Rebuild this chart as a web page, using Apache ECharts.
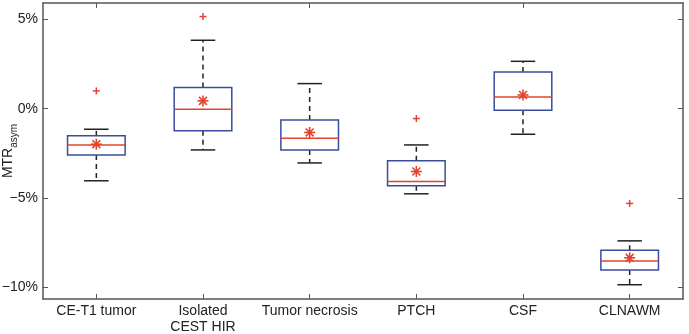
<!DOCTYPE html>
<html>
<head>
<meta charset="utf-8">
<script src="https://cdn.jsdelivr.net/npm/echarts@6/dist/echarts.min.js"></script>
<style>
  html, body { margin: 0; padding: 0; background: #fff; }
  #chart { width: 689px; height: 334px; }
</style>
</head>
<body>
<div id="chart"></div>
<script>
// MTRasym per region, values in %
var categories = ["CE-T1 tumor", "Isolated\nCEST HIR", "Tumor necrosis", "PTCH", "CSF", "CLNAWM"];
var lowerWhisker = [-4.04, -2.31, -3.04, -4.77, -1.43, -9.87];
var q1 = [-2.60, -1.24, -2.32, -4.32, -0.08, -9.05];
var median = [-2.04, -0.03, -1.65, -4.08, 0.66, -8.54];
var q3 = [-1.52, 1.19, -0.63, -2.92, 2.06, -7.94];
var upperWhisker = [-1.15, 3.84, 1.41, -2.03, 2.66, -7.41];
var means = [-1.99, 0.44, -1.33, -3.52, 0.77, -8.36];
var outliers = [[0, 1.0], [1, 5.17], [3, -0.55], [5, -5.31]];
var yTicks = [-10, -5, 0, 5];
var yTickLabels = ["\u221210%", "\u22125%", "0%", "5%"];

var chart = echarts.init(document.getElementById("chart"));

var boxData = categories.map(function (c, i) {
  return [i, lowerWhisker[i], q1[i], median[i], q3[i], upperWhisker[i]];
});
var meanData = means.map(function (v, i) { return [i, v]; });

var BLUE = "#3a4c9e";
var RED = "#e2432b";
var INK = "#222";

function renderBox(params, api) {
  var i = api.value(0);
  var lo = api.coord([i, api.value(1)]);
  var b1 = api.coord([i, api.value(2)]);
  var md = api.coord([i, api.value(3)]);
  var b3 = api.coord([i, api.value(4)]);
  var hi = api.coord([i, api.value(5)]);
  var band = api.size([1, 0])[0];
  var hw = band * 0.27;
  var cw = band * 0.115;
  var x = lo[0];
  var dash = { stroke: INK, lineWidth: 1.5, lineDash: [5, 4] };
  var solid = { stroke: INK, lineWidth: 1.5 };
  return {
    type: "group",
    children: [
      { type: "line", shape: { x1: x, y1: b3[1], x2: x, y2: hi[1] }, style: dash },
      { type: "line", shape: { x1: x, y1: b1[1], x2: x, y2: lo[1] }, style: dash },
      { type: "line", shape: { x1: x - cw, y1: hi[1], x2: x + cw, y2: hi[1] }, style: solid },
      { type: "line", shape: { x1: x - cw, y1: lo[1], x2: x + cw, y2: lo[1] }, style: solid },
      { type: "rect", shape: { x: x - hw, y: b3[1], width: hw * 2, height: b1[1] - b3[1] },
        style: { fill: "none", stroke: BLUE, lineWidth: 1.5 } },
      { type: "line", shape: { x1: x - hw, y1: md[1], x2: x + hw, y2: md[1] },
        style: { stroke: RED, lineWidth: 1.5 } }
    ]
  };
}

function renderMean(params, api) {
  var p = api.coord([api.value(0), api.value(1)]);
  var r = 5.5, d = r * 0.72;
  var st = { stroke: RED, lineWidth: 1.6 };
  return {
    type: "group",
    children: [
      { type: "line", shape: { x1: p[0] - r, y1: p[1], x2: p[0] + r, y2: p[1] }, style: st },
      { type: "line", shape: { x1: p[0], y1: p[1] - r, x2: p[0], y2: p[1] + r }, style: st },
      { type: "line", shape: { x1: p[0] - d, y1: p[1] - d, x2: p[0] + d, y2: p[1] + d }, style: st },
      { type: "line", shape: { x1: p[0] - d, y1: p[1] + d, x2: p[0] + d, y2: p[1] - d }, style: st }
    ]
  };
}

function renderPlus(params, api) {
  var p = api.coord([api.value(0), api.value(1)]);
  var r = 3.5;
  var st = { stroke: RED, lineWidth: 1.5 };
  return {
    type: "group",
    children: [
      { type: "line", shape: { x1: p[0] - r, y1: p[1], x2: p[0] + r, y2: p[1] }, style: st },
      { type: "line", shape: { x1: p[0], y1: p[1] - r, x2: p[0], y2: p[1] + r }, style: st }
    ]
  };
}

var axisLine = { show: true, onZero: false, lineStyle: { color: "#555", width: 1.5 } };
var font = "Liberation Sans";

var option = {
  animation: false,
  backgroundColor: "#fff",
  grid: { left: 43, right: 6, top: 3, bottom: 35, containLabel: false, outerBoundsMode: "none" },
  xAxis: [
    {
      type: "category",
      data: categories,
      position: "bottom",
      axisLine: axisLine,
      axisTick: { show: true, inside: true, alignWithLabel: true, length: 5, lineStyle: { color: "#555" } },
      axisLabel: { color: INK, fontSize: 14, fontFamily: font, margin: 4, lineHeight: 16, interval: 0 },
      splitLine: { show: false }
    },
    {
      type: "category",
      data: categories,
      position: "top",
      axisLine: axisLine,
      axisTick: { show: true, inside: true, alignWithLabel: true, length: 5, lineStyle: { color: "#555" } },
      axisLabel: { show: false },
      splitLine: { show: false }
    }
  ],
  yAxis: [
    {
      type: "value",
      min: -10.67,
      max: 5.93,
      position: "left",
      axisLine: axisLine,
      axisTick: { show: true, inside: true, length: 5, customValues: yTicks, lineStyle: { color: "#555" } },
      axisLabel: {
        color: INK, fontSize: 14, fontFamily: font, margin: 5,
        customValues: yTicks,
        formatter: function (v) { return yTickLabels[yTicks.indexOf(Math.round(v))]; }
      },
      splitLine: { show: false },
      name: "{m|MTR}{s|asym}",
      nameLocation: "middle",
      nameRotate: 90,
      nameGap: 24,
      nameMoveOverlap: false,
      nameTextStyle: {
        rich: {
          m: { fontSize: 14, fontFamily: font, color: INK, lineHeight: 18, verticalAlign: "top" },
          s: { fontSize: 10, fontFamily: font, color: INK, lineHeight: 18, padding: [9, 0, 0, 0], verticalAlign: "bottom" }
        }
      }
    },
    {
      type: "value",
      min: -10.67,
      max: 5.93,
      position: "right",
      axisLine: axisLine,
      axisTick: { show: true, inside: true, length: 5, customValues: yTicks, lineStyle: { color: "#555" } },
      axisLabel: { show: false },
      splitLine: { show: false }
    }
  ],
  series: [
    { type: "custom", renderItem: renderBox, data: boxData, encode: { x: 0, y: [1, 2, 3, 4, 5] }, z: 2 },
    { type: "custom", renderItem: renderMean, data: meanData, encode: { x: 0, y: 1 }, z: 3 },
    { type: "custom", renderItem: renderPlus, data: outliers, encode: { x: 0, y: 1 }, z: 3 }
  ]
};

chart.setOption(option);
</script>
</body>
</html>
